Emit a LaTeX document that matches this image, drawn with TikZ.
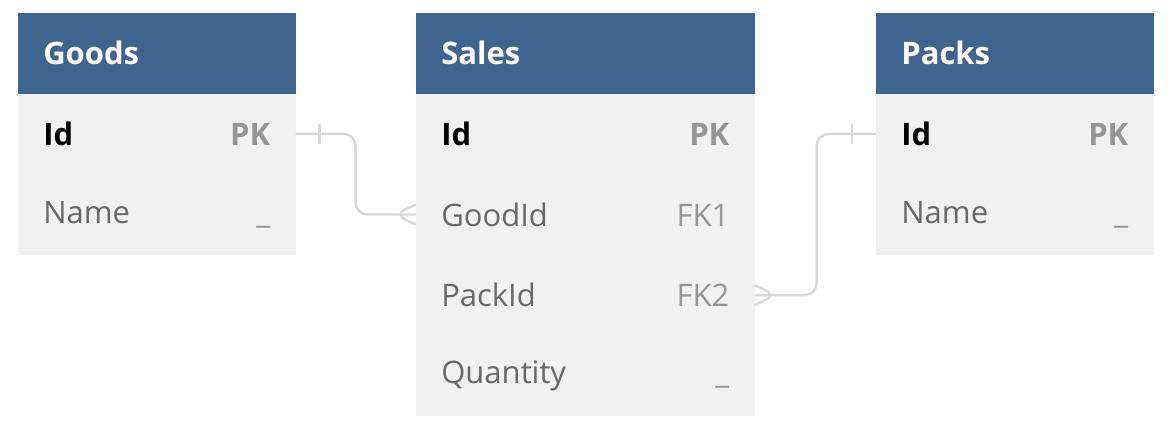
\documentclass[tikz,border=0pt]{standalone}
\usepackage{fontspec}
\setmainfont{Open Sans}
\usetikzlibrary{positioning,calc}

\definecolor{headblue}{RGB}{63,100,144}
\definecolor{rowgrey}{RGB}{241,241,241}
\definecolor{linegrey}{RGB}{216,216,216}
\definecolor{keygrey}{RGB}{150,150,150}
\definecolor{fieldgrey}{RGB}{105,105,105}

\newcommand{\pk}{{\color{keygrey}\bfseries PK}}
\newcommand{\nokey}{{\color{keygrey}\_}}

\begin{document}
\begin{tikzpicture}[x=0.5pt,y=-0.5pt,node distance=0pt,
  every node/.style={font=\fontsize{15.5}{18}\selectfont},
  head/.style={fill=headblue,draw=headblue,line width=0.3pt,text=white,
    font=\bfseries\fontsize{15.5}{18}\selectfont,
    minimum height=40pt,inner xsep=12.5pt,inner ysep=0pt,align=left},
  row/.style={fill=rowgrey,draw=rowgrey,line width=0.3pt,text=fieldgrey,
    minimum height=40pt,inner xsep=12.5pt,inner ysep=0pt,align=left},
  narrow/.style={text width=113.5pt},
  wide/.style={text width=144pt},
  conn/.style={draw=linegrey,line width=1.2pt,rounded corners=6pt}]

  \useasboundingbox (0,0) rectangle (1172,434);

  % Goods
  \node[head,narrow,anchor=north west] (gHead) at (18,13) {Goods};
  \node[row,narrow,below=of gHead] (gId)   {{\color{black}\bfseries Id}\hfill\pk};
  \node[row,narrow,below=of gId]   (gName) {Name\hfill\nokey};

  % Sales
  \node[head,wide,anchor=north west] (sHead) at (416,13) {Sales};
  \node[row,wide,below=of sHead] (sId)   {{\color{black}\bfseries Id}\hfill\pk};
  \node[row,wide,below=of sId]   (sGood) {GoodId\hfill{\color{keygrey}FK1}};
  \node[row,wide,below=of sGood] (sPack) {PackId\hfill{\color{keygrey}FK2}};
  \node[row,wide,below=of sPack] (sQty)  {Quantity\hfill\nokey};

  % Packs
  \node[head,narrow,anchor=north west] (pHead) at (876,13) {Packs};
  \node[row,narrow,below=of pHead] (pId)   {{\color{black}\bfseries Id}\hfill\pk};
  \node[row,narrow,below=of pId]   (pName) {Name\hfill\nokey};

  % relations
  \draw[conn] (gId.east) -- ++(60,0) |- (sGood.west);
  \draw[conn] ($(gId.east)+(24,-10)$) -- ($(gId.east)+(24,10)$);
  \draw[conn] ($(sGood.west)+(0,-10)$) -- ($(sGood.west)+(-22,0)$) -- ($(sGood.west)+(0,10)$);

  \draw[conn] (sPack.east) -- ++(62,0) |- (pId.west);
  \draw[conn] ($(pId.west)+(-24,-10)$) -- ($(pId.west)+(-24,10)$);
  \draw[conn] ($(sPack.east)+(0,-10)$) -- ($(sPack.east)+(22,0)$) -- ($(sPack.east)+(0,10)$);
\end{tikzpicture}
\end{document}
